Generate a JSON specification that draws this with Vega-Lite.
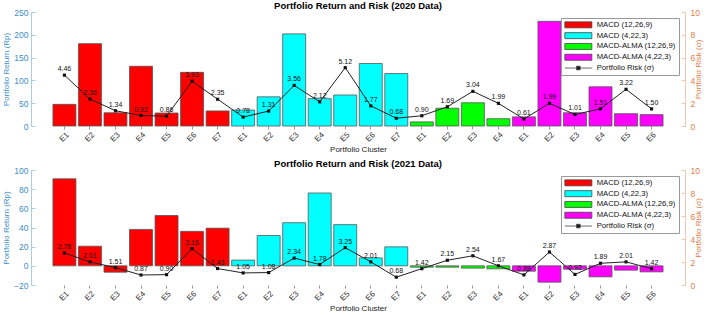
{
  "$schema": "https://vega.github.io/schema/vega-lite/v6.json",
  "padding": {"left": 2, "right": 2, "top": 0, "bottom": 2},
  "config": {
    "font": "Liberation Sans",
    "view": {"stroke": null},
    "axis": {"grid": false, "labelFont": "Liberation Sans", "titleFont": "Liberation Sans", "titleFontWeight": "normal", "labelOverlap": false, "labelBound": false}
  },
  "data": {"values": [
    {"year": 2020, "g": "MACD (12,26,9)", "k": "1 E1", "ret": 47.5, "risk": 4.46},
    {"year": 2020, "g": "MACD (12,26,9)", "k": "1 E2", "ret": 180.6, "risk": 2.36},
    {"year": 2020, "g": "MACD (12,26,9)", "k": "1 E3", "ret": 29, "risk": 1.34},
    {"year": 2020, "g": "MACD (12,26,9)", "k": "1 E4", "ret": 131, "risk": 0.92},
    {"year": 2020, "g": "MACD (12,26,9)", "k": "1 E5", "ret": 28.5, "risk": 0.86},
    {"year": 2020, "g": "MACD (12,26,9)", "k": "1 E6", "ret": 117.7, "risk": 3.93},
    {"year": 2020, "g": "MACD (12,26,9)", "k": "1 E7", "ret": 33, "risk": 2.35},
    {"year": 2020, "g": "MACD (4,22,3)", "k": "2 E1", "ret": 35, "risk": 0.78},
    {"year": 2020, "g": "MACD (4,22,3)", "k": "2 E2", "ret": 64, "risk": 1.31},
    {"year": 2020, "g": "MACD (4,22,3)", "k": "2 E3", "ret": 202, "risk": 3.56},
    {"year": 2020, "g": "MACD (4,22,3)", "k": "2 E4", "ret": 60, "risk": 2.12},
    {"year": 2020, "g": "MACD (4,22,3)", "k": "2 E5", "ret": 68, "risk": 5.12},
    {"year": 2020, "g": "MACD (4,22,3)", "k": "2 E6", "ret": 137, "risk": 1.77},
    {"year": 2020, "g": "MACD (4,22,3)", "k": "2 E7", "ret": 115, "risk": 0.68},
    {"year": 2020, "g": "MACD-ALMA (12,26,9)", "k": "3 E1", "ret": 9, "risk": 0.90},
    {"year": 2020, "g": "MACD-ALMA (12,26,9)", "k": "3 E2", "ret": 39, "risk": 1.69},
    {"year": 2020, "g": "MACD-ALMA (12,26,9)", "k": "3 E3", "ret": 51, "risk": 3.04},
    {"year": 2020, "g": "MACD-ALMA (12,26,9)", "k": "3 E4", "ret": 16, "risk": 1.99},
    {"year": 2020, "g": "MACD-ALMA (4,22,3)", "k": "4 E1", "ret": 20, "risk": 0.61},
    {"year": 2020, "g": "MACD-ALMA (4,22,3)", "k": "4 E2", "ret": 229.5, "risk": 1.99},
    {"year": 2020, "g": "MACD-ALMA (4,22,3)", "k": "4 E3", "ret": 29, "risk": 1.01},
    {"year": 2020, "g": "MACD-ALMA (4,22,3)", "k": "4 E4", "ret": 86, "risk": 1.51},
    {"year": 2020, "g": "MACD-ALMA (4,22,3)", "k": "4 E5", "ret": 27, "risk": 3.22},
    {"year": 2020, "g": "MACD-ALMA (4,22,3)", "k": "4 E6", "ret": 25, "risk": 1.50},
    {"year": 2021, "g": "MACD (12,26,9)", "k": "1 E1", "ret": 90.8, "risk": 2.78},
    {"year": 2021, "g": "MACD (12,26,9)", "k": "1 E2", "ret": 20.5, "risk": 2.01},
    {"year": 2021, "g": "MACD (12,26,9)", "k": "1 E3", "ret": -6.6, "risk": 1.51},
    {"year": 2021, "g": "MACD (12,26,9)", "k": "1 E4", "ret": 38, "risk": 0.87},
    {"year": 2021, "g": "MACD (12,26,9)", "k": "1 E5", "ret": 52.5, "risk": 0.90},
    {"year": 2021, "g": "MACD (12,26,9)", "k": "1 E6", "ret": 36, "risk": 3.16},
    {"year": 2021, "g": "MACD (12,26,9)", "k": "1 E7", "ret": 39.3, "risk": 1.43},
    {"year": 2021, "g": "MACD (4,22,3)", "k": "2 E1", "ret": 6, "risk": 1.05},
    {"year": 2021, "g": "MACD (4,22,3)", "k": "2 E2", "ret": 31.7, "risk": 1.08},
    {"year": 2021, "g": "MACD (4,22,3)", "k": "2 E3", "ret": 45, "risk": 2.34},
    {"year": 2021, "g": "MACD (4,22,3)", "k": "2 E4", "ret": 76, "risk": 1.78},
    {"year": 2021, "g": "MACD (4,22,3)", "k": "2 E5", "ret": 43, "risk": 3.25},
    {"year": 2021, "g": "MACD (4,22,3)", "k": "2 E6", "ret": 8.3, "risk": 2.01},
    {"year": 2021, "g": "MACD (4,22,3)", "k": "2 E7", "ret": 19.8, "risk": 0.68},
    {"year": 2021, "g": "MACD-ALMA (12,26,9)", "k": "3 E1", "ret": -1.4, "risk": 1.42},
    {"year": 2021, "g": "MACD-ALMA (12,26,9)", "k": "3 E2", "ret": -1.4, "risk": 2.15},
    {"year": 2021, "g": "MACD-ALMA (12,26,9)", "k": "3 E3", "ret": -2.4, "risk": 2.54},
    {"year": 2021, "g": "MACD-ALMA (12,26,9)", "k": "3 E4", "ret": -3.1, "risk": 1.67},
    {"year": 2021, "g": "MACD-ALMA (4,22,3)", "k": "4 E1", "ret": -5.6, "risk": 0.88},
    {"year": 2021, "g": "MACD-ALMA (4,22,3)", "k": "4 E2", "ret": -17, "risk": 2.87},
    {"year": 2021, "g": "MACD-ALMA (4,22,3)", "k": "4 E3", "ret": -3.5, "risk": 0.92},
    {"year": 2021, "g": "MACD-ALMA (4,22,3)", "k": "4 E4", "ret": -11.5, "risk": 1.89},
    {"year": 2021, "g": "MACD-ALMA (4,22,3)", "k": "4 E5", "ret": -4.5, "risk": 2.01},
    {"year": 2021, "g": "MACD-ALMA (4,22,3)", "k": "4 E6", "ret": -6.3, "risk": 1.42}
  ]},
  "spacing": 4,
  "resolve": {"scale": {"color": "independent", "y": "independent", "x": "independent"}, "legend": {"color": "independent"}},
  "vconcat": [
    {
      "title": {"text": "Portfolio Return and Risk (2020 Data)", "fontSize": 9.5, "fontWeight": "bold", "offset": -2, "anchor": "middle", "color": "#000"},
      "width": 654,
      "height": 114,
      "transform": [{"filter": "datum.year == 2020"}],
      "encoding": {
        "x": {"field": "k", "type": "nominal", "sort": "ascending",
          "scale": {"paddingInner": 0.1, "paddingOuter": 0.86},
          "title": "Portfolio Cluster",
          "axis": {"labelExpr": "slice(datum.value, 2)", "labelAngle": -45, "labelAlign": "center", "labelBaseline": "middle", "labelPadding": 8, "labelFontSize": 8, "labelColor": "#333", "domain": false, "ticks": true, "tickSize": 3, "tickColor": "#999", "titleFontSize": 8, "titleColor": "#222", "titlePadding": 2}
        }
      },
      "layer": [
        {"layer": [
          {"mark": {"type": "bar", "stroke": "#555", "strokeWidth": 0.8},
           "encoding": {
             "y": {"field": "ret", "type": "quantitative", "scale": {"domain": [0, 250], "nice": false},
               "title": "Portfolio Return (Rp)",
               "axis": {"orient": "left", "values": [0, 50, 100, 150, 200, 250], "tickCount": 50, "format": "d", "labelColor": "#3d8ecb", "titleColor": "#3d8ecb", "domainColor": "#a8cbe6", "tickColor": "#a8cbe6", "tickSize": -4, "labelPadding": 7, "labelFontSize": 8.5, "titleFontSize": 8, "titlePadding": 3}},
             "color": {"field": "g", "type": "nominal",
               "scale": {"domain": ["MACD (12,26,9)", "MACD (4,22,3)", "MACD-ALMA (12,26,9)", "MACD-ALMA (4,22,3)", "Portfolio Risk (σ)"], "range": ["#ff0000", "#00ffff", "#00ff00", "#ff00ff", "#000000"]},
               "legend": {"orient": "top-right", "offset": 6, "title": null, "labelFontSize": 7.7, "labelColor": "#111", "symbolSize": 36, "labelOffset": 25, "rowPadding": 0.8, "padding": 3, "strokeColor": "#999", "fillColor": "white", "symbolStrokeColor": "#444", "symbolStrokeWidth": 0.8, "symbolOpacity": 1,
                 "encode": {"symbols": {"update": {"shape": {"signal": "datum.value === 'Portfolio Risk (σ)' ? 'M-1,0H8M2.9,-0.6H4.1V0.6H2.9Z' : 'M-1,-1H8V1H-1Z'"}}}}}
             }
           }},
          {"mark": {"type": "rule", "color": "#8fc1e3", "strokeWidth": 1}, "encoding": {"y": {"datum": 0}}}
        ]},
        {"layer": [
          {"mark": {"type": "line", "color": "#222", "strokeWidth": 1},
           "encoding": {"y": {"field": "risk", "type": "quantitative", "scale": {"domain": [0, 10], "nice": false},
             "title": "Portfolio Risk (σ)",
             "axis": {"orient": "right", "values": [0, 2, 4, 6, 8, 10], "tickCount": 50, "format": "d", "labelColor": "#e0804a", "titleColor": "#e0804a", "domainColor": "#f2c7ab", "tickColor": "#f2c7ab", "tickSize": -4, "labelPadding": 9, "labelFontSize": 8.5, "titleFontSize": 8, "titlePadding": 3, "titleAngle": 270}}}},
          {"mark": {"type": "point", "shape": "square", "filled": true, "color": "#111", "size": 10, "opacity": 1},
           "encoding": {"y": {"field": "risk", "type": "quantitative"}}},
          {"mark": {"type": "text", "fontSize": 7, "dy": -6, "color": "#111"},
           "encoding": {"y": {"field": "risk", "type": "quantitative"}, "text": {"field": "risk", "type": "quantitative", "format": ".2f"}}}
        ]}
      ],
      "resolve": {"scale": {"y": "independent"}}
    },
    {
      "title": {"text": "Portfolio Return and Risk (2021 Data)", "fontSize": 9.5, "fontWeight": "bold", "offset": -2, "anchor": "middle", "color": "#000"},
      "width": 654,
      "height": 115,
      "transform": [{"filter": "datum.year == 2021"}],
      "encoding": {
        "x": {"field": "k", "type": "nominal", "sort": "ascending",
          "scale": {"paddingInner": 0.1, "paddingOuter": 0.86},
          "title": "Portfolio Cluster",
          "axis": {"labelExpr": "slice(datum.value, 2)", "labelAngle": -45, "labelAlign": "center", "labelBaseline": "middle", "labelPadding": 8, "labelFontSize": 8, "labelColor": "#333", "domain": false, "ticks": true, "tickSize": 3, "tickColor": "#999", "titleFontSize": 8, "titleColor": "#222", "titlePadding": 2}
        }
      },
      "layer": [
        {"layer": [
          {"mark": {"type": "bar", "stroke": "#555", "strokeWidth": 0.8},
           "encoding": {
             "y": {"field": "ret", "type": "quantitative", "scale": {"domain": [-20, 100], "nice": false},
               "title": "Portfolio Return (Rp)",
               "axis": {"orient": "left", "values": [-20, 0, 20, 40, 60, 80, 100], "tickCount": 50, "format": "d", "labelColor": "#3d8ecb", "titleColor": "#3d8ecb", "domainColor": "#a8cbe6", "tickColor": "#a8cbe6", "tickSize": -4, "labelPadding": 7, "labelFontSize": 8.5, "titleFontSize": 8, "titlePadding": 3}},
             "color": {"field": "g", "type": "nominal",
               "scale": {"domain": ["MACD (12,26,9)", "MACD (4,22,3)", "MACD-ALMA (12,26,9)", "MACD-ALMA (4,22,3)", "Portfolio Risk (σ)"], "range": ["#ff0000", "#00ffff", "#00ff00", "#ff00ff", "#000000"]},
               "legend": {"orient": "top-right", "offset": 6, "title": null, "labelFontSize": 7.7, "labelColor": "#111", "symbolSize": 36, "labelOffset": 25, "rowPadding": 0.8, "padding": 3, "strokeColor": "#999", "fillColor": "white", "symbolStrokeColor": "#444", "symbolStrokeWidth": 0.8, "symbolOpacity": 1,
                 "encode": {"symbols": {"update": {"shape": {"signal": "datum.value === 'Portfolio Risk (σ)' ? 'M-1,0H8M2.9,-0.6H4.1V0.6H2.9Z' : 'M-1,-1H8V1H-1Z'"}}}}}
             }
           }},
          {"mark": {"type": "rule", "color": "#8fc1e3", "strokeWidth": 1}, "encoding": {"y": {"datum": 0}}}
        ]},
        {"layer": [
          {"mark": {"type": "line", "color": "#222", "strokeWidth": 1},
           "encoding": {"y": {"field": "risk", "type": "quantitative", "scale": {"domain": [0, 10], "nice": false},
             "title": "Portfolio Risk (σ)",
             "axis": {"orient": "right", "values": [0, 2, 4, 6, 8, 10], "tickCount": 50, "format": "d", "labelColor": "#e0804a", "titleColor": "#e0804a", "domainColor": "#f2c7ab", "tickColor": "#f2c7ab", "tickSize": -4, "labelPadding": 9, "labelFontSize": 8.5, "titleFontSize": 8, "titlePadding": 3, "titleAngle": 270}}}},
          {"mark": {"type": "point", "shape": "square", "filled": true, "color": "#111", "size": 10, "opacity": 1},
           "encoding": {"y": {"field": "risk", "type": "quantitative"}}},
          {"mark": {"type": "text", "fontSize": 7, "dy": -6, "color": "#111"},
           "encoding": {"y": {"field": "risk", "type": "quantitative"}, "text": {"field": "risk", "type": "quantitative", "format": ".2f"}}}
        ]}
      ],
      "resolve": {"scale": {"y": "independent"}}
    }
  ]
}
